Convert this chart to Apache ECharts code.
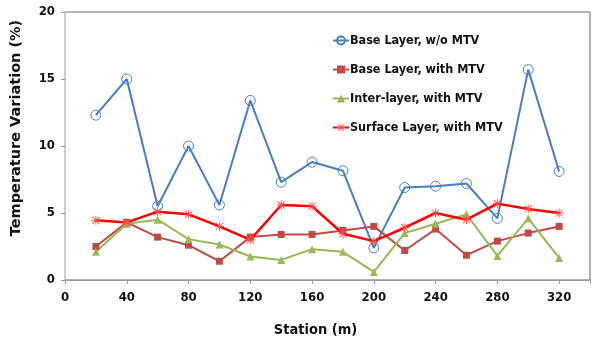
<!DOCTYPE html>
<html><head><meta charset="utf-8">
<script src="https://cdn.jsdelivr.net/npm/echarts@6/dist/echarts.min.js"></script>
<style>html,body{margin:0;padding:0;background:#fff}#c{width:592px;height:343px}</style>
</head><body><div id="c"></div>
<script>
const stations = [20,40,60,80,100,120,140,160,180,200,220,240,260,280,300,320];
const baseNoMTV = [12.3,15.0,5.5,10.0,5.6,13.4,7.3,8.8,8.15,2.4,6.9,7.0,7.2,4.6,15.7,8.1];
const baseMTV = [2.5,4.3,3.2,2.6,1.4,3.2,3.4,3.4,3.7,4.0,2.2,3.8,1.85,2.9,3.5,4.0];
const interMTV = [2.1,4.2,4.5,3.05,2.65,1.75,1.5,2.3,2.1,0.6,3.5,4.2,4.9,1.8,4.6,1.65];
const surfaceMTV = [4.45,4.3,5.1,4.9,4.0,3.0,5.6,5.5,3.45,2.9,3.9,5.0,4.5,5.7,5.3,5.0];
const seriesNames = ['Base Layer, w/o MTV','Base Layer, with MTV','Inter-layer, with MTV','Surface Layer, with MTV'];

const FONT = '"Liberation Sans Narrow", "DejaVu Sans Condensed", "Liberation Sans", Arial, sans-serif';
const TFONT = '"DejaVu Sans", sans-serif';
const pair = arr => stations.map((s,i)=>[s,arr[i]]);
const star = 'path://M4.5,0L5.5,0L5.5,10L4.5,10Z M0,4.5L10,4.5L10,5.5L0,5.5Z M0.7,1.4L1.4,0.7L9.3,8.6L8.6,9.3Z M8.6,0.7L9.3,1.4L1.4,9.3L0.7,8.6Z';

const chart = echarts.init(document.getElementById('c'));
chart.setOption({
  animation:false,
  textStyle:{fontFamily:FONT},
  grid:{left:65,right:2,top:12,bottom:63,show:true,borderColor:'#666',borderWidth:1,outerBoundsMode:'none',containLabel:false},
  xAxis:{type:'value',min:0,max:340,interval:40,
    name:'Station (m)',nameLocation:'middle',nameGap:43,
    nameTextStyle:{fontFamily:FONT,fontWeight:'bold',fontSize:14.5,color:'#111',padding:[0,24,0,0]},
    axisLine:{show:true,lineStyle:{color:'#999',width:1}},
    axisTick:{show:true,length:4,lineStyle:{color:'#999'}},
    splitLine:{show:false},
    axisLabel:{fontFamily:FONT,fontWeight:'bold',fontSize:13,color:'#111',margin:11,
      formatter:v=> v>320?'':String(v)}},
  yAxis:{type:'value',min:0,max:20,interval:5,
    name:'Temperature Variation (%)',nameLocation:'middle',nameGap:41,
    nameTextStyle:{fontFamily:TFONT,fontWeight:'bold',fontSize:14.5,color:'#111',padding:[0,0,0,36]},
    axisLine:{show:true,lineStyle:{color:'#ccc',width:2}},
    axisTick:{show:true,length:4,lineStyle:{color:'#999'}},
    splitLine:{show:false},
    axisLabel:{fontFamily:FONT,fontWeight:'bold',fontSize:13,color:'#111',margin:10}},
  legend:{orient:'vertical',left:332,top:34,padding:0,itemGap:16,itemWidth:16,itemHeight:10,
    data:seriesNames,
    textStyle:{fontFamily:FONT,fontWeight:'bold',fontSize:12.5,color:'#111',padding:[0,0,0,-4]}},
  series:[
    {name:seriesNames[0],type:'line',data:pair(baseNoMTV),symbol:'circle',symbolSize:10,
      lineStyle:{color:'#4a7ebb',width:2},itemStyle:{color:'rgba(255,255,255,0)',borderColor:'#4a7ebb',borderWidth:1}},
    {name:seriesNames[1],type:'line',data:pair(baseMTV),symbol:'rect',symbolSize:7,
      lineStyle:{color:'#be4b48',width:2},itemStyle:{color:'#be4b48'}},
    {name:seriesNames[2],type:'line',data:pair(interMTV),symbol:'triangle',symbolSize:8,
      lineStyle:{color:'#98b954',width:2},itemStyle:{color:'#98b954'}},
    {name:seriesNames[3],type:'line',data:pair(surfaceMTV),symbol:star,symbolSize:9,
      lineStyle:{color:'#ff0000',width:2.5},itemStyle:{color:'#ff4a4a'}}
  ]
});
</script></body></html>
